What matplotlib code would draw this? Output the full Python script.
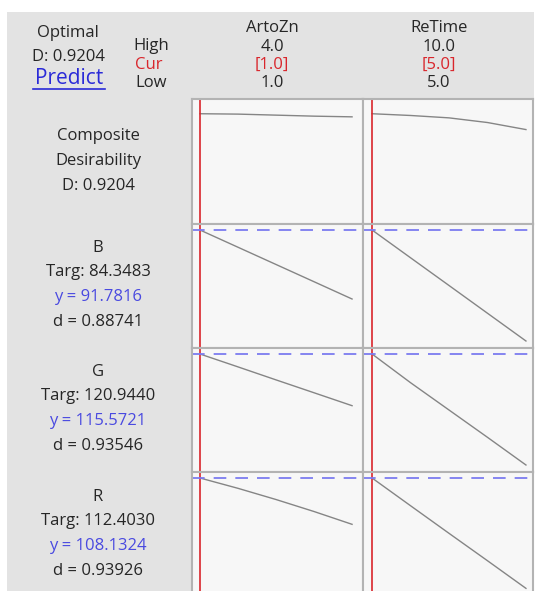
import numpy as np
import matplotlib.pyplot as plt
from matplotlib.patches import Rectangle

plt.rcParams['font.family'] = ['Open Sans', 'DejaVu Sans']

# factors
factors = ['ArtoZn', 'ReTime']
f_high = [4.0, 10.0]
f_cur = [1.0, 5.0]
f_low = [1.0, 5.0]

artozn_x = [1.0, 1.75, 2.5, 3.25, 4.0]
retime_x = [5.0, 6.25, 7.5, 8.75, 10.0]

# responses (rows)
resp_names = ['B', 'G', 'R']
resp_targ = ['84.3483', '120.9440', '112.4030']
resp_y = [91.7816, 115.5721, 108.1324]
resp_d = ['0.88741', '0.93546', '0.93926']
composite_D = 0.9204

# curves: [ArtoZn curve, ReTime curve]
comp_curves = [[0.9204, 0.917, 0.908, 0.899, 0.893],
               [0.9204, 0.905, 0.884, 0.843, 0.781]]
b_curves = [[91.78, 87.47, 83.16, 78.85, 74.53],
            [91.78, 84.84, 77.91, 70.97, 64.03]]
g_curves = [[115.57, 112.35, 109.10, 105.88, 102.65],
            [115.57, 108.40, 101.57, 94.74, 87.82]]
r_curves = [[108.13, 105.55, 102.75, 99.75, 96.55],
            [108.13, 101.20, 94.30, 87.45, 80.54]]

row_curves = [comp_curves, b_curves, g_curves, r_curves]
row_ylims = [(-0.05, 1.05), (62.28, 93.28), (86.07, 117.07), (78.63, 109.63)]
col_xs = [artozn_x, retime_x]
col_xlims = [(0.843, 4.216), (4.706, 10.229)]

W, H = 538, 591
fig = plt.figure(figsize=(W / 100, H / 100), dpi=100)
fig.patch.set_facecolor('white')

# background axes in pixel coordinates for the text
bg = fig.add_axes([0, 0, 1, 1], zorder=0)
bg.set_xlim(0, W)
bg.set_ylim(H, 0)
bg.axis('off')
bg.add_patch(Rectangle((7, 12), 527, 600, facecolor='#e3e3e3', edgecolor='none'))

txt = '#262626'
blue = '#4a4ae0'
red = '#d9262c'
fs = 12

bg.text(68, 33, 'Optimal', ha='center', va='center', fontsize=fs, color=txt)
bg.text(68, 57, 'D: 0.9204', ha='center', va='center', fontsize=fs, color=txt)
bg.text(69, 79, 'Predict', ha='center', va='center', fontsize=15, color='#2a2ad8')
bg.plot([33, 105], [89, 89], color='#2a2ad8', lw=1.2)
bg.text(133, 46, 'High', ha='left', va='center', fontsize=fs, color=txt)
bg.text(135, 65, 'Cur', ha='left', va='center', fontsize=fs, color=red)
bg.text(135, 83, 'Low', ha='left', va='center', fontsize=fs, color=txt)

col_centers = [272, 439]
for i, name in enumerate(factors):
    cx = col_centers[i]
    bg.text(cx, 28, name, ha='center', va='center', fontsize=fs, color=txt)
    bg.text(cx, 47, f'{f_high[i]:.1f}', ha='center', va='center', fontsize=fs, color=txt)
    bg.text(cx, 65, f'[{f_cur[i]:.1f}]', ha='center', va='center', fontsize=fs, color=red)
    bg.text(cx, 83, f'{f_low[i]:.1f}', ha='center', va='center', fontsize=fs, color=txt)

# left labels
bg.text(98, 136, 'Composite', ha='center', va='center', fontsize=fs, color=txt)
bg.text(98, 161, 'Desirability', ha='center', va='center', fontsize=fs, color=txt)
bg.text(98, 186, f'D: {composite_D:.4f}', ha='center', va='center', fontsize=fs, color=txt)
block_tops = [248, 372, 497]
for k in range(3):
    y0 = block_tops[k]
    bg.text(98, y0, resp_names[k], ha='center', va='center', fontsize=fs, color=txt)
    bg.text(98, y0 + 24, f'Targ: {resp_targ[k]}', ha='center', va='center', fontsize=fs, color=txt)
    bg.text(98, y0 + 49, f'y = {resp_y[k]:.4f}', ha='center', va='center', fontsize=fs, color=blue)
    bg.text(98, y0 + 74, f'd = {resp_d[k]}', ha='center', va='center', fontsize=fs, color=txt)

# panel grid
col_edges = [192, 363, 533]
row_edges = [99, 224, 348, 472, 596]

for r in range(4):
    for c in range(2):
        x0, x1 = col_edges[c], col_edges[c + 1]
        y0, y1 = row_edges[r], row_edges[r + 1]
        ax = fig.add_axes([x0 / W, 1 - y1 / H, (x1 - x0) / W, (y1 - y0) / H], zorder=1)
        ax.set_facecolor('#f7f7f7')
        for s in ax.spines.values():
            s.set_color('#b3b3b3')
            s.set_linewidth(1.5)
        ax.set_xticks([])
        ax.set_yticks([])
        ax.set_xlim(*col_xlims[c])
        ax.set_ylim(*row_ylims[r])
        ax.plot(col_xs[c], row_curves[r][c], color='#858585', lw=1.0)
        ax.axvline(f_cur[c], color=red, lw=1.2)
        if r > 0:
            ax.axhline(resp_y[r - 1], color='#7b7bf0', lw=1.3, ls=(0, (7, 5)), clip_on=False)

fig.savefig('out.png', dpi=100)
